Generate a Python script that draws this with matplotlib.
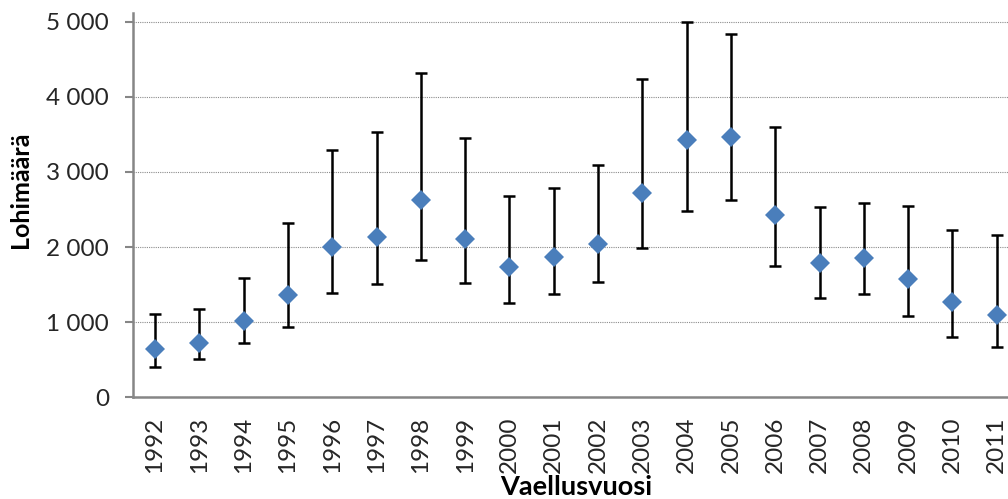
import numpy as np
import matplotlib
import matplotlib.pyplot as plt
matplotlib.use('agg')

years = [str(y) for y in range(1992, 2012)]
estimate = [643, 719, 1012, 1366, 2005, 2138, 2626, 2107, 1731, 1864,
            2041, 2724, 3425, 3465, 2427, 1792, 1858, 1579, 1269, 1092]
upper = [1113, 1175, 1592, 2324, 3296, 3528, 4321, 3452, 2676, 2790,
         3092, 4233, 5000, 4840, 3594, 2529, 2587, 2547, 2223, 2157]
lower = [407, 510, 723, 932, 1388, 1504, 1832, 1518, 1255, 1371,
         1531, 1991, 2484, 2630, 1748, 1326, 1371, 1082, 799, 670]
yticks = [0, 1000, 2000, 3000, 4000, 5000]
ytick_labels = ['0', '1 000', '2 000', '3 000', '4 000', '5 000']

plt.rcParams['font.family'] = ['Lato', 'DejaVu Sans']

W, H = 1008, 499
fig = plt.figure(figsize=(W / 100, H / 100), dpi=100)
ax = fig.add_axes([132.85 / W, (H - 397.3) / H, 886 / W, 384 / H])

x = np.arange(len(years))
est = np.array(estimate)
err = [est - np.array(lower), np.array(upper) - est]

ax.errorbar(x, est, yerr=err, fmt='none', ecolor='black', elinewidth=1.8,
            capsize=4.3, capthick=1.8, zorder=3)
ax.plot(x, est, 'D', color='#4a7ebb', markersize=10.2, markeredgewidth=0, zorder=4)

ax.set_xlim(-0.5, len(years) - 0.5)
ax.set_ylim(0, 5110)
ax.set_yticks(yticks)
ax.set_yticklabels(ytick_labels)
ax.set_xticks(x)
ax.set_xticklabels(years, rotation=90)

ax.yaxis.grid(True, color='#8c8c8c', linestyle=(0, (1, 1)), linewidth=0.8)
ax.set_axisbelow(True)

for s in ['top', 'right']:
    ax.spines[s].set_visible(False)
for s in ['left', 'bottom']:
    ax.spines[s].set_color('#868686')
    ax.spines[s].set_linewidth(1.8)

ax.tick_params(axis='y', length=6, width=1.5, color='#868686', pad=11,
               labelsize=17.5, labelcolor='#262626')
ax.tick_params(axis='x', length=0, pad=14, labelsize=17.5, labelcolor='#262626')

fig.text(21 / W, 1 - 190 / H, 'Lohimäärä', rotation=90, ha='center', va='center',
         fontsize=18, fontweight='bold', color='black')
fig.text(576 / W, 1 - 475 / H, 'Vaellusvuosi', ha='center', va='top',
         fontsize=19.5, fontweight='bold', color='black')

fig.savefig('out.png', dpi=100)
